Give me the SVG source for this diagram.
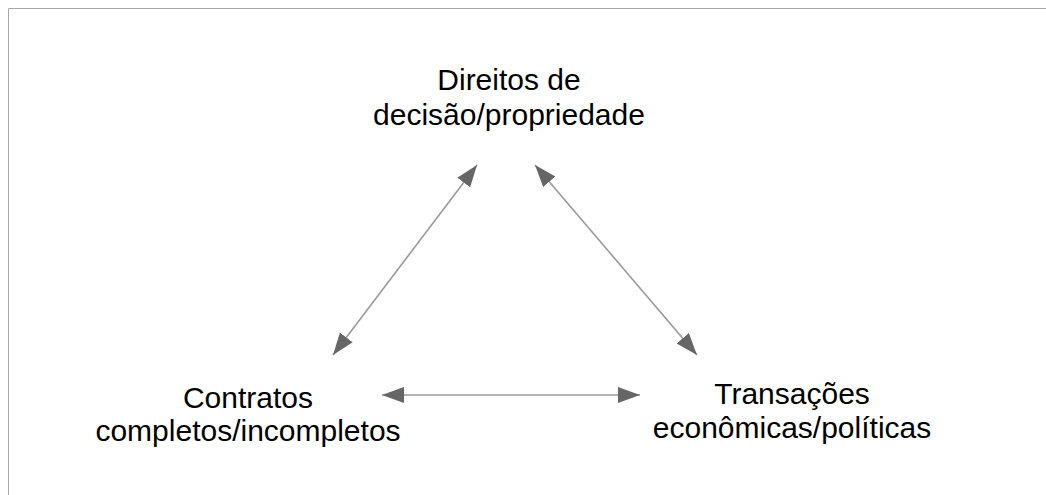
<svg xmlns="http://www.w3.org/2000/svg" width="1046" height="495" viewBox="0 0 1046 495">
  <style>
    .frame { stroke: #a8a8a8; stroke-width: 1; fill: none; }
    .lbl { font-family: "Liberation Sans", Arial, sans-serif; font-size: 30px; fill: #000; text-anchor: middle; }
    .conn { stroke: #9a9a9a; stroke-width: 1.6; fill: none; marker-start: url(#ah); marker-end: url(#ah); }
  </style>
  <defs>
    <marker id="ah" viewBox="0 0 22 16" markerWidth="22" markerHeight="16" refX="22" refY="8" orient="auto-start-reverse" markerUnits="userSpaceOnUse">
      <path d="M0,0 L22,8 L0,16 Z" fill="#666666"/>
    </marker>
  </defs>
  <rect width="1046" height="495" fill="#ffffff"/>
  <path class="frame" d="M8.5,495 L8.5,8.5 L1046,8.5"/>
  <g id="connectors">
    <line class="conn" x1="333" y1="355" x2="477" y2="165"/>
    <line class="conn" x1="535" y1="165" x2="697" y2="355"/>
    <line class="conn" x1="382" y1="395" x2="640" y2="395"/>
  </g>
  <g id="node-direitos">
    <text class="lbl" x="509" y="90">Direitos de</text>
    <text class="lbl" x="509" y="125">decisão/propriedade</text>
  </g>
  <g id="node-contratos">
    <text class="lbl" x="248" y="408">Contratos</text>
    <text class="lbl" x="248" y="441">completos/incompletos</text>
  </g>
  <g id="node-transacoes">
    <text class="lbl" x="792" y="404">Transações</text>
    <text class="lbl" x="792" y="438">econômicas/políticas</text>
  </g>
</svg>
